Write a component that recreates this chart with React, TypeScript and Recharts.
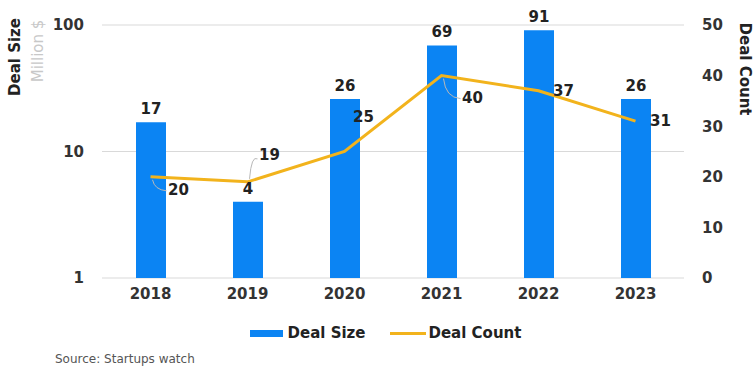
import { ComposedChart, Bar, Line, XAxis, YAxis, CartesianGrid, LabelList, Legend } from "recharts";

const years = ["2018", "2019", "2020", "2021", "2022", "2023"];
const dealSize = [17, 4, 26, 69, 91, 26];
const dealCount = [20, 19, 25, 40, 37, 31];
const sizeTicks = [1, 10, 100];
const countTicks = [0, 10, 20, 30, 40, 50];

const data = years.map((year, i) => ({ year, size: dealSize[i], count: dealCount[i] }));

const BLUE = "#0b84f3";
const GOLD = "#f2b31c";
const FONT = "'DejaVu Sans', sans-serif";

// where each count label sits relative to its point (excel-style manual placement)
const countLabelOffsets = [
  { dx: 28, dy: 13, leader: true },
  { dx: 22, dy: -27, leader: true },
  { dx: 19, dy: -35, leader: false },
  { dx: 31, dy: 22, leader: true },
  { dx: 25, dy: 0, leader: false },
  { dx: 25, dy: 0, leader: false },
];

const CountLabel = (props: any) => {
  const { x, y, value, index } = props;
  const o = countLabelOffsets[index];
  if (!o) return null;
  const lx = x + o.dx;
  const ly = y + o.dy;
  return (
    <g>
      {o.leader && (
        <path
          d={`M${x + 2},${y + (o.dy > 0 ? 3 : -3)} Q${x + 4},${ly} ${lx - 12},${ly + (o.dy > 0 ? 1 : 4)}`}
          stroke="#b8b8b8"
          strokeWidth={1}
          fill="none"
        />
      )}
      <text x={lx} y={ly} textAnchor="middle" dominantBaseline="central" fontFamily={FONT} fontWeight="bold" fontSize={15} fill="#222">
        {value}
      </text>
    </g>
  );
};

const LegendContent = () => (
  <div style={{ display: "flex", justifyContent: "center", alignItems: "center", paddingLeft: 16, fontFamily: FONT, fontWeight: "bold", fontSize: 15, color: "#222" }}>
    <span style={{ display: "inline-block", width: 33, height: 7, background: BLUE, marginRight: 5 }} />
    <span>Deal Size</span>
    <span style={{ display: "inline-block", width: 36, height: 3, background: GOLD, marginLeft: 24, marginRight: 3 }} />
    <span>Deal Count</span>
  </div>
);

export default function App() {
  return (
    <div style={{ position: "absolute", left: 0, top: 0, width: 755, height: 370, background: "#fff" }}>
      <ComposedChart width={755} height={370} data={data} margin={{ top: 25, right: 26, bottom: 62, left: 50 }}>
        <CartesianGrid vertical={false} stroke="#d9d9d9" yAxisId="left" />
        <XAxis
          dataKey="year"
          axisLine={false}
          tickLine={false}
          tickSize={0}
          tickMargin={10}
          tick={{ fontFamily: FONT, fontWeight: "bold", fontSize: 15, fill: "#333" }}
        />
        <YAxis
          yAxisId="left"
          scale="log"
          domain={[1, 100]}
          ticks={sizeTicks}
          width={52}
          axisLine={false}
          tickLine={false}
          tickSize={0}
          tickMargin={18}
          tick={{ fontFamily: FONT, fontWeight: "bold", fontSize: 15, fill: "#333" }}
        />
        <YAxis
          yAxisId="right"
          orientation="right"
          domain={[0, 50]}
          ticks={countTicks}
          width={45}
          axisLine={false}
          tickLine={false}
          tickSize={0}
          tickMargin={18}
          tick={{ fontFamily: FONT, fontWeight: "bold", fontSize: 15, fill: "#333" }}
        />
        <Legend verticalAlign="middle" wrapperStyle={{ top: 324, left: 0, width: 755 }} content={LegendContent} />
        <Bar yAxisId="left" dataKey="size" name="Deal Size" fill={BLUE} barSize={30} isAnimationActive={false}>
          <LabelList dataKey="size" position="top" offset={8} fontFamily={FONT} fontWeight="bold" fontSize={15} fill="#222" />
        </Bar>
        <Line
          yAxisId="right"
          dataKey="count"
          name="Deal Count"
          type="linear"
          stroke={GOLD}
          strokeWidth={3}
          dot={false}
          isAnimationActive={false}
        >
          <LabelList dataKey="count" content={CountLabel} />
        </Line>
      </ComposedChart>
      <div style={{ position: "absolute", left: 15, top: 57, transform: "translate(-50%, -50%) rotate(-90deg)", fontFamily: FONT, fontWeight: "bold", fontSize: 15, color: "#222", whiteSpace: "nowrap" }}>
        Deal Size
      </div>
      <div style={{ position: "absolute", left: 38, top: 51, transform: "translate(-50%, -50%) rotate(-90deg)", fontFamily: FONT, fontSize: 15, color: "#c8c8c8", whiteSpace: "nowrap" }}>
        Million $
      </div>
      <div style={{ position: "absolute", left: 745, top: 69, transform: "translate(-50%, -50%) rotate(90deg)", fontFamily: FONT, fontWeight: "bold", fontSize: 15, color: "#222", whiteSpace: "nowrap" }}>
        Deal Count
      </div>
      <div style={{ position: "absolute", left: 55, top: 352, fontFamily: FONT, fontSize: 12, color: "#555", whiteSpace: "nowrap" }}>
        Source: Startups watch
      </div>
    </div>
  );
}
